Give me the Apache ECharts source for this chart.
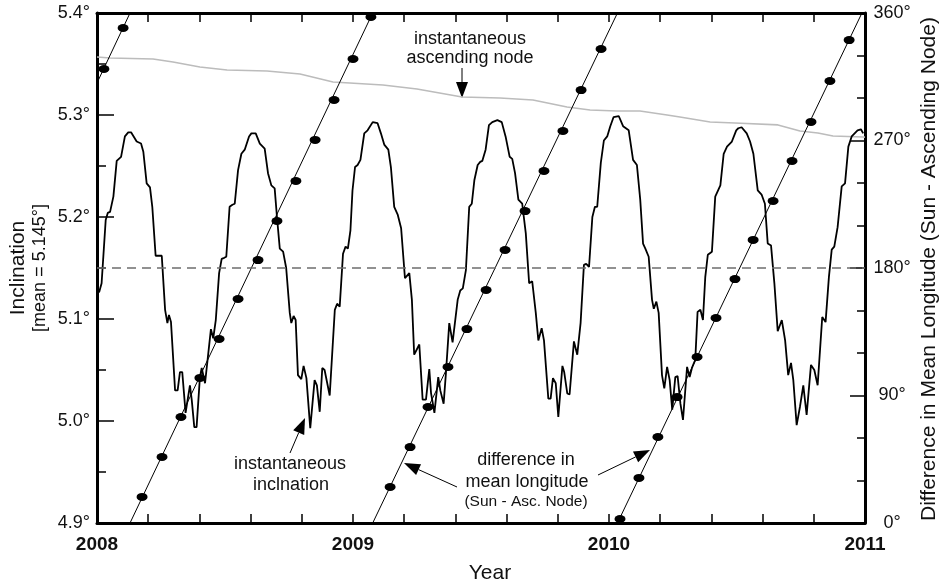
<!DOCTYPE html>
<html>
<head>
<meta charset="utf-8">
<title>Inclination vs difference in mean longitude</title>
<script src="https://cdn.jsdelivr.net/npm/echarts@6/dist/echarts.min.js"></script>
<style>
  html, body { margin: 0; padding: 0; background: #fff; }
  #chart { width: 942px; height: 585px; }
</style>
</head>
<body>
<div id="chart"></div>
<script>
// year range and axis ticks
var yearMin = 2008, yearMax = 2011;
var inclMin = 4.9, inclMax = 5.4;
var meanLevel = 5.15;

// instantaneous inclination [year, degrees]
var inclination = [
  [2008.008,5.126],[2008.018,5.135],[2008.034,5.197],[2008.042,5.204],[2008.051,5.205],[2008.064,5.220],[2008.077,5.255],[2008.094,5.259],[2008.109,5.279],[2008.122,5.283],[2008.133,5.283],[2008.155,5.274],[2008.172,5.272],[2008.181,5.264],[2008.194,5.233],[2008.207,5.229],[2008.216,5.210],[2008.229,5.162],[2008.253,5.162],[2008.266,5.109],[2008.275,5.096],[2008.281,5.104],[2008.289,5.097],[2008.305,5.030],[2008.315,5.030],[2008.324,5.048],[2008.333,5.048],[2008.346,5.008],[2008.363,5.035],[2008.370,5.021],[2008.380,4.994],[2008.389,4.994],[2008.402,5.043],[2008.409,5.052],[2008.422,5.037],[2008.445,5.090],[2008.454,5.081],[2008.464,5.099],[2008.477,5.145],[2008.487,5.159],[2008.497,5.160],
  [2008.505,5.161],[2008.518,5.210],[2008.529,5.212],[2008.538,5.213],[2008.551,5.246],[2008.564,5.262],[2008.577,5.266],[2008.594,5.279],[2008.603,5.282],[2008.620,5.282],[2008.636,5.272],[2008.655,5.267],[2008.668,5.243],[2008.681,5.231],[2008.694,5.228],[2008.703,5.200],[2008.714,5.169],[2008.727,5.166],[2008.739,5.150],[2008.753,5.106],[2008.759,5.096],[2008.768,5.103],[2008.776,5.099],[2008.785,5.045],[2008.798,5.041],[2008.807,5.054],[2008.818,5.042],[2008.833,4.993],[2008.850,5.040],[2008.859,5.035],[2008.870,5.009],[2008.880,5.052],[2008.889,5.050],[2008.909,5.025],[2008.929,5.109],[2008.938,5.115],[2008.948,5.112],[2008.961,5.164],[2008.971,5.171],[2008.980,5.169],[2008.990,5.187],[2008.998,5.226],[2009.008,5.249],
  [2009.018,5.251],[2009.029,5.256],[2009.044,5.282],[2009.057,5.285],[2009.077,5.293],[2009.096,5.292],[2009.109,5.282],[2009.122,5.271],[2009.138,5.266],[2009.148,5.249],[2009.161,5.210],[2009.175,5.202],[2009.188,5.189],[2009.203,5.140],[2009.220,5.145],[2009.230,5.119],[2009.239,5.065],[2009.259,5.075],[2009.272,5.021],[2009.285,5.021],[2009.298,5.051],[2009.305,5.027],[2009.318,5.008],[2009.333,5.043],[2009.341,5.030],[2009.354,5.017],[2009.363,5.047],[2009.376,5.096],[2009.389,5.077],[2009.409,5.119],[2009.419,5.128],[2009.429,5.130],[2009.441,5.148],[2009.454,5.210],[2009.464,5.213],[2009.474,5.236],[2009.487,5.251],[2009.497,5.254],
  [2009.505,5.255],[2009.518,5.266],[2009.531,5.290],[2009.544,5.293],[2009.564,5.295],[2009.581,5.293],[2009.596,5.279],[2009.612,5.259],[2009.622,5.257],[2009.633,5.243],[2009.646,5.217],[2009.661,5.213],[2009.675,5.184],[2009.688,5.135],[2009.700,5.137],[2009.714,5.106],[2009.724,5.079],[2009.737,5.091],[2009.746,5.079],[2009.763,5.022],[2009.772,5.022],[2009.781,5.042],[2009.792,5.037],[2009.802,5.004],[2009.818,5.054],[2009.825,5.048],[2009.837,5.027],[2009.846,5.026],[2009.863,5.078],[2009.876,5.065],[2009.889,5.096],[2009.902,5.153],[2009.911,5.154],[2009.922,5.151],[2009.935,5.200],[2009.945,5.210],[2009.954,5.210],[2009.968,5.253],[2009.980,5.275],[2009.993,5.279],
  [2010.005,5.289],[2010.018,5.298],[2010.038,5.299],[2010.055,5.289],[2010.077,5.285],[2010.094,5.256],[2010.109,5.251],[2010.122,5.217],[2010.133,5.174],[2010.142,5.169],[2010.155,5.161],[2010.168,5.119],[2010.175,5.110],[2010.185,5.117],[2010.194,5.106],[2010.207,5.045],[2010.216,5.032],[2010.227,5.053],[2010.237,5.040],[2010.247,5.011],[2010.259,5.043],[2010.268,5.044],[2010.279,5.017],[2010.289,5.001],[2010.305,5.053],[2010.315,5.043],[2010.324,5.052],[2010.337,5.060],[2010.346,5.107],[2010.357,5.109],[2010.367,5.099],[2010.376,5.141],[2010.386,5.163],[2010.402,5.166],[2010.415,5.220],[2010.435,5.231],[2010.448,5.262],[2010.461,5.269],[2010.480,5.274],[2010.497,5.285],
  [2010.505,5.287],[2010.518,5.288],[2010.538,5.282],[2010.551,5.274],[2010.564,5.262],[2010.581,5.226],[2010.596,5.222],[2010.609,5.213],[2010.620,5.174],[2010.633,5.172],[2010.646,5.135],[2010.659,5.088],[2010.675,5.099],[2010.688,5.079],[2010.700,5.045],[2010.711,5.057],[2010.720,5.040],[2010.733,4.996],[2010.746,5.014],[2010.759,5.035],[2010.772,5.006],[2010.789,5.055],[2010.802,5.050],[2010.815,5.035],[2010.833,5.102],[2010.846,5.097],[2010.859,5.141],[2010.870,5.168],[2010.880,5.171],[2010.893,5.190],[2010.909,5.230],[2010.922,5.233],[2010.935,5.269],[2010.948,5.279],[2010.971,5.285],[2010.984,5.286],[2010.993,5.282]
];

// instantaneous ascending node, right axis degrees
var ascNode = [
  [2008.000,328.9],[2008.051,328.2],[2008.219,327.5],[2008.297,325.4],[2008.402,321.9],[2008.508,319.8],[2008.664,319.1],[2008.793,316.9],[2008.922,311.3],[2009.117,309.2],[2009.250,306.4],[2009.426,300.7],[2009.574,300.0],[2009.703,298.6],[2009.836,293.6],[2009.926,291.5],[2010.031,290.8],[2010.121,290.8],[2010.227,288.0],[2010.277,286.6],[2010.395,283.1],[2010.492,282.4],[2010.660,281.0],[2010.746,276.7],[2010.816,275.3],[2010.875,273.2],[2010.992,272.5],[2011.000,272.4]
];

// difference in mean longitude (Sun - node): straight runs from 0 to 360 deg
var diffRuns = [
  [[2008.000,310.6],[2008.129,360]],
  [[2008.129,0],[2009.077,360]],
  [[2009.077,0],[2010.033,360]],
  [[2010.033,0],[2010.988,360]]
];

// dots along the difference lines
var diffDots = [
  [2008.027,320.5],[2008.102,349.4],
  [2008.176,18.4],[2008.254,46.6],[2008.328,74.8],[2008.402,102.4],[2008.477,129.9],[2008.551,158.1],[2008.629,185.6],[2008.703,213.2],[2008.777,241.4],[2008.852,270.4],[2008.926,298.6],[2009.000,327.5],[2009.070,357.2],
  [2009.145,25.4],[2009.223,53.6],[2009.293,81.9],[2009.371,110.1],[2009.445,136.9],[2009.520,164.5],[2009.594,192.7],[2009.672,220.2],[2009.746,248.5],[2009.820,276.7],[2009.891,305.6],[2009.969,334.6],
  [2010.043,2.8],[2010.117,31.8],[2010.191,60.7],[2010.266,88.9],[2010.344,117.2],[2010.418,144.7],[2010.492,172.2],[2010.563,199.8],[2010.641,227.3],[2010.715,255.5],[2010.789,283.1],[2010.863,312.0],[2010.938,340.9]
];

var FONT = "'Liberation Sans', Arial, Helvetica, sans-serif";
var INK = '#111';

function txt(s, x, y, size, rot) {
  return {
    type: 'text', x: x, y: y, rotation: rot || 0, silent: true,
    style: { text: s, fill: INK, font: size + 'px ' + FONT, textAlign: 'center', textVerticalAlign: 'middle' }
  };
}

function arrow(x1, y1, x2, y2) {
  var a = Math.atan2(y2 - y1, x2 - x1);
  var L = 16, W = 6;
  var bx = x2 - L * Math.cos(a), by = y2 - L * Math.sin(a);
  var px = -Math.sin(a) * W, py = Math.cos(a) * W;
  return [
    { type: 'line', silent: true, shape: { x1: x1, y1: y1, x2: bx, y2: by }, style: { stroke: '#000', lineWidth: 1 } },
    { type: 'polygon', silent: true, shape: { points: [[x2, y2], [bx + px, by + py], [bx - px, by - py]] }, style: { fill: '#000' } }
  ];
}

var chart = echarts.init(document.getElementById('chart'));

var xAxisBase = {
  type: 'value', min: yearMin, max: yearMax, interval: 1,
  axisLine: { show: true, onZero: false, lineStyle: { color: '#000', width: 3 } },
  axisTick: { show: true, inside: true, length: 9, lineStyle: { color: '#000', width: 1.5 } },
  minorTick: { show: true, splitNumber: 5, length: 9, lineStyle: { color: '#000', width: 1.5 } },
  splitLine: { show: false }
};

var series = [
  {
    type: 'line', name: 'ascending node', xAxisIndex: 0, yAxisIndex: 1, data: ascNode,
    showSymbol: false, symbol: 'none', z: 1,
    lineStyle: { color: '#bcbcbc', width: 1.6 }
  },
  {
    type: 'line', name: 'inclination', xAxisIndex: 0, yAxisIndex: 0, data: inclination,
    showSymbol: false, symbol: 'none', z: 2,
    lineStyle: { color: '#000', width: 1.8 },
    markLine: {
      silent: true, symbol: 'none', label: { show: false },
      lineStyle: { color: '#6e6e6e', type: [9, 6], width: 1.5 },
      data: [{ yAxis: meanLevel }]
    }
  }
];

diffRuns.forEach(function (run) {
  series.push({
    type: 'line', xAxisIndex: 0, yAxisIndex: 1, data: run, clip: true,
    showSymbol: false, symbol: 'none', z: 3,
    lineStyle: { color: '#000', width: 1 }
  });
});

series.push({
  type: 'scatter', xAxisIndex: 0, yAxisIndex: 1, data: diffDots, z: 4,
  symbol: 'circle', symbolSize: [11, 8],
  itemStyle: { color: '#000', opacity: 1 }
});

var graphics = []
  .concat([txt('instantaneous', 470, 39, 18), txt('ascending node', 470, 58, 18)])
  .concat(arrow(462, 68, 462, 98))
  .concat([txt('instantaneous', 290, 464, 18), txt('inclnation', 291, 485, 18)])
  .concat(arrow(290, 453, 305, 418))
  .concat([txt('difference in', 526, 460, 18), txt('mean longitude', 527, 482, 18), txt('(Sun - Asc. Node)', 526, 502, 15.5)])
  .concat(arrow(457, 487, 404, 463))
  .concat(arrow(598, 475, 650, 450))
  .concat([
    txt('Inclination', 18, 268, 21, Math.PI / 2),
    txt('[mean = 5.145°]', 40, 268, 18, Math.PI / 2),
    txt('Difference in Mean Longitude (Sun - Ascending Node)', 929, 269, 21, Math.PI / 2),
    txt('Year', 490, 573, 21)
  ]);

chart.setOption({
  animation: false,
  backgroundColor: '#fff',
  grid: { left: 97, right: 77, top: 13, bottom: 62, containLabel: false, outerBoundsMode: 'none' },
  xAxis: [
    Object.assign({}, xAxisBase, {
      position: 'bottom',
      axisLabel: { show: true, margin: 12, color: INK, fontFamily: FONT, fontSize: 19, fontWeight: 'bold',
        formatter: function (v) { return String(Math.round(v)); } }
    }),
    Object.assign({}, xAxisBase, { position: 'top', axisLabel: { show: false } })
  ],
  yAxis: [
    {
      type: 'value', position: 'left', min: inclMin, max: inclMax, interval: 0.1,
      axisLine: { show: true, onZero: false, lineStyle: { color: '#000', width: 3 } },
      axisTick: { show: true, inside: true, length: 17, lineStyle: { color: '#000', width: 1.5 } },
      minorTick: { show: true, splitNumber: 2, length: 9, lineStyle: { color: '#000', width: 1.5 } },
      splitLine: { show: false },
      axisLabel: { margin: 7, color: INK, fontFamily: FONT, fontSize: 18,
        formatter: function (v) { return v.toFixed(1) + '°'; } }
    },
    {
      type: 'value', position: 'right', min: 0, max: 360, interval: 90,
      axisLine: { show: true, onZero: false, lineStyle: { color: '#000', width: 3 } },
      axisTick: { show: true, inside: true, length: 15, lineStyle: { color: '#000', width: 1.5 } },
      minorTick: { show: true, splitNumber: 3, length: 8, lineStyle: { color: '#000', width: 1.5 } },
      splitLine: { show: false },
      axisLabel: { margin: 27, align: 'center', padding: [4, 0, 0, 0], color: INK, fontFamily: FONT, fontSize: 18,
        formatter: function (v) { return Math.round(v) + '°'; } }
    }
  ],
  series: series,
  graphic: graphics
});
</script>
</body>
</html>
